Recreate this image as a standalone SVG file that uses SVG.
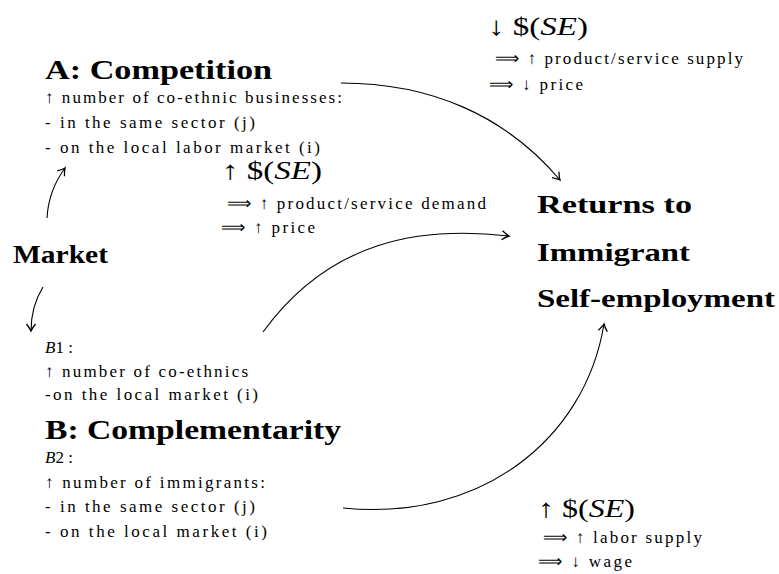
<svg xmlns="http://www.w3.org/2000/svg" width="779" height="574" viewBox="0 0 779 574">
<style>
.h{font-family:"Liberation Serif","Times New Roman",serif;font-weight:bold;fill:#000}
.s{font-family:"Liberation Serif","Times New Roman",serif;font-size:17px;fill:#000}
.m{font-family:"Liberation Serif","Times New Roman",serif;font-size:26px;fill:#000}
.i{font-style:italic}
.c{fill:none;stroke:#000;stroke-width:1.1}
</style>
<defs>
<marker id="ah" markerUnits="userSpaceOnUse" markerWidth="14" markerHeight="14" viewBox="-8 -7 10 14" refX="0" refY="0" orient="auto">
<path d="M-7,-4.5 Q-2.5,-1 0,0 Q-2.5,1 -7,4.5" fill="none" stroke="#000" stroke-width="1.3"/>
</marker>
</defs>
<g id="nodeA">
<text class="h" x="45" y="79" font-size="28" textLength="227" lengthAdjust="spacingAndGlyphs">A: Competition</text>
<text class="s" x="45" y="103" textLength="297" lengthAdjust="spacing">↑ number of co-ethnic businesses:</text>
<text class="s" x="45" y="128" textLength="210" lengthAdjust="spacing">- in the same sector (j)</text>
<text class="s" x="45" y="153" textLength="275" lengthAdjust="spacing">- on the local labor market (i)</text>
</g>
<g id="labelA1">
<text class="m" x="488" y="35" textLength="100" lengthAdjust="spacingAndGlyphs">↓ $(<tspan class="i">SE</tspan>)</text>
<text class="s" x="495" y="64" textLength="248" lengthAdjust="spacing">⟹ ↑ product/service supply</text>
<text class="s" x="489" y="90" textLength="94" lengthAdjust="spacing">⟹ ↓ price</text>
</g>
<g id="labelA2">
<text class="m" x="222" y="179" textLength="100" lengthAdjust="spacingAndGlyphs">↑ $(<tspan class="i">SE</tspan>)</text>
<text class="s" x="227" y="209" textLength="259" lengthAdjust="spacing">⟹ ↑ product/service demand</text>
<text class="s" x="221" y="233" textLength="94" lengthAdjust="spacing">⟹ ↑ price</text>
</g>
<g id="market">
<text class="h" x="13" y="263" font-size="25" textLength="95" lengthAdjust="spacingAndGlyphs">Market</text>
</g>
<g id="nodeB1">
<text class="s" x="45" y="353"><tspan class="i">B</tspan>1 :</text>
<text class="s" x="45" y="377" textLength="203" lengthAdjust="spacing">↑ number of co-ethnics</text>
<text class="s" x="45" y="400" textLength="213" lengthAdjust="spacing">-on the local market (i)</text>
</g>
<g id="nodeB">
<text class="h" x="45" y="439" font-size="28" textLength="296" lengthAdjust="spacingAndGlyphs">B: Complementarity</text>
<text class="s" x="45" y="463"><tspan class="i">B</tspan>2 :</text>
<text class="s" x="45" y="488" textLength="220" lengthAdjust="spacing">↑ number of immigrants:</text>
<text class="s" x="45" y="512" textLength="210" lengthAdjust="spacing">- in the same sector (j)</text>
<text class="s" x="45" y="537" textLength="222" lengthAdjust="spacing">- on the local market (i)</text>
</g>
<g id="returns">
<text class="h" x="537" y="213" font-size="25" textLength="155" lengthAdjust="spacingAndGlyphs">Returns to</text>
<text class="h" x="537" y="261" font-size="25" textLength="153" lengthAdjust="spacingAndGlyphs">Immigrant</text>
<text class="h" x="537" y="307" font-size="25" textLength="238" lengthAdjust="spacingAndGlyphs">Self-employment</text>
</g>
<g id="labelB">
<text class="m" x="538" y="517" textLength="97" lengthAdjust="spacingAndGlyphs">↑ $(<tspan class="i">SE</tspan>)</text>
<text class="s" x="543" y="543" textLength="159" lengthAdjust="spacing">⟹ ↑ labor supply</text>
<text class="s" x="538" y="567" textLength="94" lengthAdjust="spacing">⟹ ↓ wage</text>
</g>
<g id="connectors">
<path class="c" marker-end="url(#ah)" d="M341,83 C430,83 505,115 560,180"/>
<path class="c" marker-end="url(#ah)" d="M263,332 C330,240 420,226 509,236"/>
<path class="c" marker-end="url(#ah)" d="M343,508 C480,522 585,440 604,324"/>
<path class="c" marker-end="url(#ah)" d="M47,218 C48,200 54,183 65,168"/>
<path class="c" marker-end="url(#ah)" d="M43,287 C35,300 31,315 31,331"/>
</g>
</svg>
